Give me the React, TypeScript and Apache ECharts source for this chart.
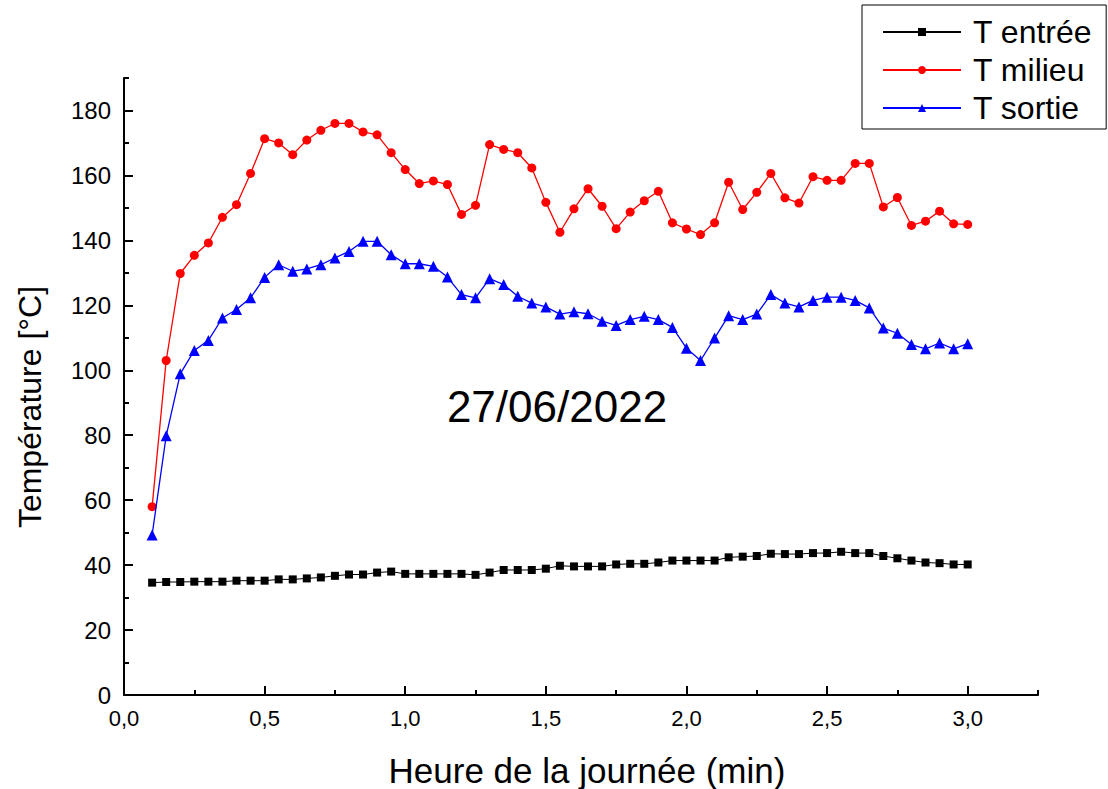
import React, { useEffect, useRef } from "react";
import * as echarts from "echarts";

const time = [
  0.1, 0.15, 0.2, 0.25, 0.3, 0.35, 0.4, 0.45, 0.5, 0.55, 0.6, 0.65, 0.7, 0.75, 0.8, 0.85, 0.9, 0.95,
  1.0, 1.05, 1.1, 1.15, 1.2, 1.25, 1.3, 1.35, 1.4, 1.45, 1.5, 1.55, 1.6, 1.65, 1.7, 1.75, 1.8, 1.85, 1.9, 1.95,
  2.0, 2.05, 2.1, 2.15, 2.2, 2.25, 2.3, 2.35, 2.4, 2.45, 2.5, 2.55, 2.6, 2.65, 2.7, 2.75, 2.8, 2.85, 2.9, 2.95,
  3.0,
];

const tEntree = [
  34.6, 34.8, 34.8, 34.9, 34.9, 34.9, 35.2, 35.2, 35.2, 35.6, 35.6, 35.9, 36.2, 36.7, 37.1, 37.1, 37.7, 38.0,
  37.3, 37.3, 37.3, 37.3, 37.3, 37.0, 37.7, 38.5, 38.5, 38.5, 38.9, 39.8, 39.6, 39.6, 39.6, 40.2, 40.4, 40.4, 40.8, 41.4,
  41.4, 41.4, 41.4, 42.4, 42.6, 42.8, 43.5, 43.4, 43.4, 43.7, 43.7, 44.1, 43.7, 43.7, 42.8, 42.1, 41.4, 40.8, 40.6, 40.2,
  40.2,
];

const tMilieu = [
  58.0, 103.0, 129.8, 135.4, 139.2, 147.1, 151.0, 160.6, 171.3, 170.0, 166.4, 170.9, 173.9, 176.0, 176.0, 173.4, 172.5, 167.0,
  161.8, 157.5, 158.3, 157.2, 148.0, 150.8, 169.5, 168.0, 167.0, 162.3, 151.7, 142.5, 149.7, 155.9, 150.5, 143.6, 148.7, 152.2, 155.1, 145.4,
  143.5, 141.8, 145.4, 157.9, 149.5, 154.8, 160.6, 153.1, 151.5, 159.6, 158.5, 158.5, 163.7, 163.7, 150.3, 153.2, 144.6, 145.9, 149.0, 145.1,
  144.9,
];

const tSortie = [
  49.3, 79.8, 98.9, 106.1, 109.2, 116.1, 118.7, 122.3, 128.6, 132.5, 130.5, 131.2, 132.5, 134.6, 136.6, 139.7, 139.7, 135.6,
  132.8, 132.8, 132.0, 128.7, 123.3, 122.3, 128.2, 126.4, 122.8, 120.7, 119.5, 117.3, 118.0, 117.4, 115.1, 113.8, 115.6, 116.6, 115.6, 113.2,
  106.8, 103.0, 109.9, 116.8, 115.6, 117.3, 123.3, 120.7, 119.5, 121.5, 122.5, 122.5, 121.5, 119.2, 113.0, 111.4, 107.9, 106.6, 108.4, 106.6,
  108.2,
];

const seriesNames = ["T entrée", "T milieu", "T sortie"];
const xMajorTicks = [0, 0.5, 1.0, 1.5, 2.0, 2.5, 3.0];
const xMinorTicks = [0.25, 0.75, 1.25, 1.75, 2.25, 2.75, 3.25];
const yMajorTicks = [0, 20, 40, 60, 80, 100, 120, 140, 160, 180];
const yMinorTicks = [10, 30, 50, 70, 90, 110, 130, 150, 170, 190];
const xTitle = "Heure de la journée (min)";
const yTitle = "Température [°C]";
const dateLabel = "27/06/2022";

const FONT = "'Liberation Sans', Arial, sans-serif";

export default function App() {
  const ref = useRef<HTMLDivElement>(null);

  useEffect(() => {
    if (!ref.current) return;
    const chart = echarts.init(ref.current, null, { renderer: "svg" });
    const pair = (ys: number[]) => time.map((t, i) => [t, ys[i]]);
    const axisLine = { show: true, lineStyle: { color: "#000", width: 2 } };
    const hidden = { show: false };

    chart.setOption({
      animation: false,
      backgroundColor: "#fff",
      textStyle: { fontFamily: FONT },
      grid: { left: 124, right: 70, top: 78, bottom: 94, containLabel: false },
      legend: {
        orient: "vertical",
        left: 862,
        top: 5,
        data: seriesNames,
        itemWidth: 78,
        itemHeight: 10,
        itemGap: 6,
        padding: [11, 14, 5, 20],
        borderColor: "#000",
        borderWidth: 1,
        backgroundColor: "#fff",
        textStyle: { fontFamily: FONT, fontSize: 32, color: "#000", padding: [0, 0, 0, 7] },
      },
      xAxis: [
        {
          type: "value",
          position: "bottom",
          min: 0,
          max: 3.25,
          axisLine,
          splitLine: hidden,
          axisTick: {
            show: true,
            inside: true,
            length: 9,
            customValues: xMajorTicks,
            lineStyle: { color: "#000", width: 2 },
          },
          axisLabel: {
            show: true,
            customValues: xMajorTicks,
            margin: 12,
            fontFamily: FONT,
            fontSize: 22,
            color: "#000",
            formatter: (v: number) => v.toFixed(1).replace(".", ","),
          },
        },
        {
          type: "value",
          position: "bottom",
          min: 0,
          max: 3.25,
          axisLine: hidden,
          splitLine: hidden,
          axisLabel: hidden,
          axisTick: {
            show: true,
            inside: true,
            length: 5,
            customValues: xMinorTicks,
            lineStyle: { color: "#000", width: 2 },
          },
        },
      ],
      yAxis: [
        {
          type: "value",
          position: "left",
          min: 0,
          max: 190,
          axisLine,
          splitLine: hidden,
          axisTick: {
            show: true,
            inside: true,
            length: 9,
            customValues: yMajorTicks,
            lineStyle: { color: "#000", width: 2 },
          },
          axisLabel: {
            show: true,
            customValues: yMajorTicks,
            margin: 13,
            fontFamily: FONT,
            fontSize: 24,
            color: "#000",
          },
        },
        {
          type: "value",
          position: "left",
          min: 0,
          max: 190,
          axisLine: hidden,
          splitLine: hidden,
          axisLabel: hidden,
          axisTick: {
            show: true,
            inside: true,
            length: 5,
            customValues: yMinorTicks,
            lineStyle: { color: "#000", width: 2 },
          },
        },
      ],
      graphic: [
        {
          type: "text",
          x: 30,
          y: 407,
          rotation: Math.PI / 2,
          style: {
            text: yTitle,
            font: `32px ${FONT}`,
            fill: "#000",
            textAlign: "center",
            textVerticalAlign: "middle",
          },
        },
        {
          type: "text",
          x: 587,
          y: 770,
          style: {
            text: xTitle,
            font: `35px ${FONT}`,
            fill: "#000",
            textAlign: "center",
            textVerticalAlign: "middle",
          },
        },
        {
          type: "text",
          x: 557,
          y: 406,
          style: {
            text: dateLabel,
            font: `44px ${FONT}`,
            fill: "#000",
            textAlign: "center",
            textVerticalAlign: "middle",
          },
        },
      ],
      series: [
        {
          name: seriesNames[0],
          type: "line",
          xAxisIndex: 0,
          yAxisIndex: 0,
          data: pair(tEntree),
          symbol: "rect",
          symbolSize: 8,
          lineStyle: { color: "#000", width: 1 },
          itemStyle: { color: "#000" },
          z: 3,
        },
        {
          name: seriesNames[1],
          type: "line",
          xAxisIndex: 0,
          yAxisIndex: 0,
          data: pair(tMilieu),
          symbol: "circle",
          symbolSize: 9,
          lineStyle: { color: "#ff0000", width: 1.3 },
          itemStyle: { color: "#ff0000" },
          z: 4,
        },
        {
          name: seriesNames[2],
          type: "line",
          xAxisIndex: 0,
          yAxisIndex: 0,
          data: pair(tSortie),
          symbol: "triangle",
          symbolSize: 11,
          lineStyle: { color: "#0000ff", width: 1.3 },
          itemStyle: { color: "#0000ff" },
          z: 5,
        },
      ],
    });

    return () => chart.dispose();
  }, []);

  return (
    <div
      ref={ref}
      style={{ position: "fixed", left: 0, top: 0, width: 1108, height: 789, background: "#fff" }}
    />
  );
}
